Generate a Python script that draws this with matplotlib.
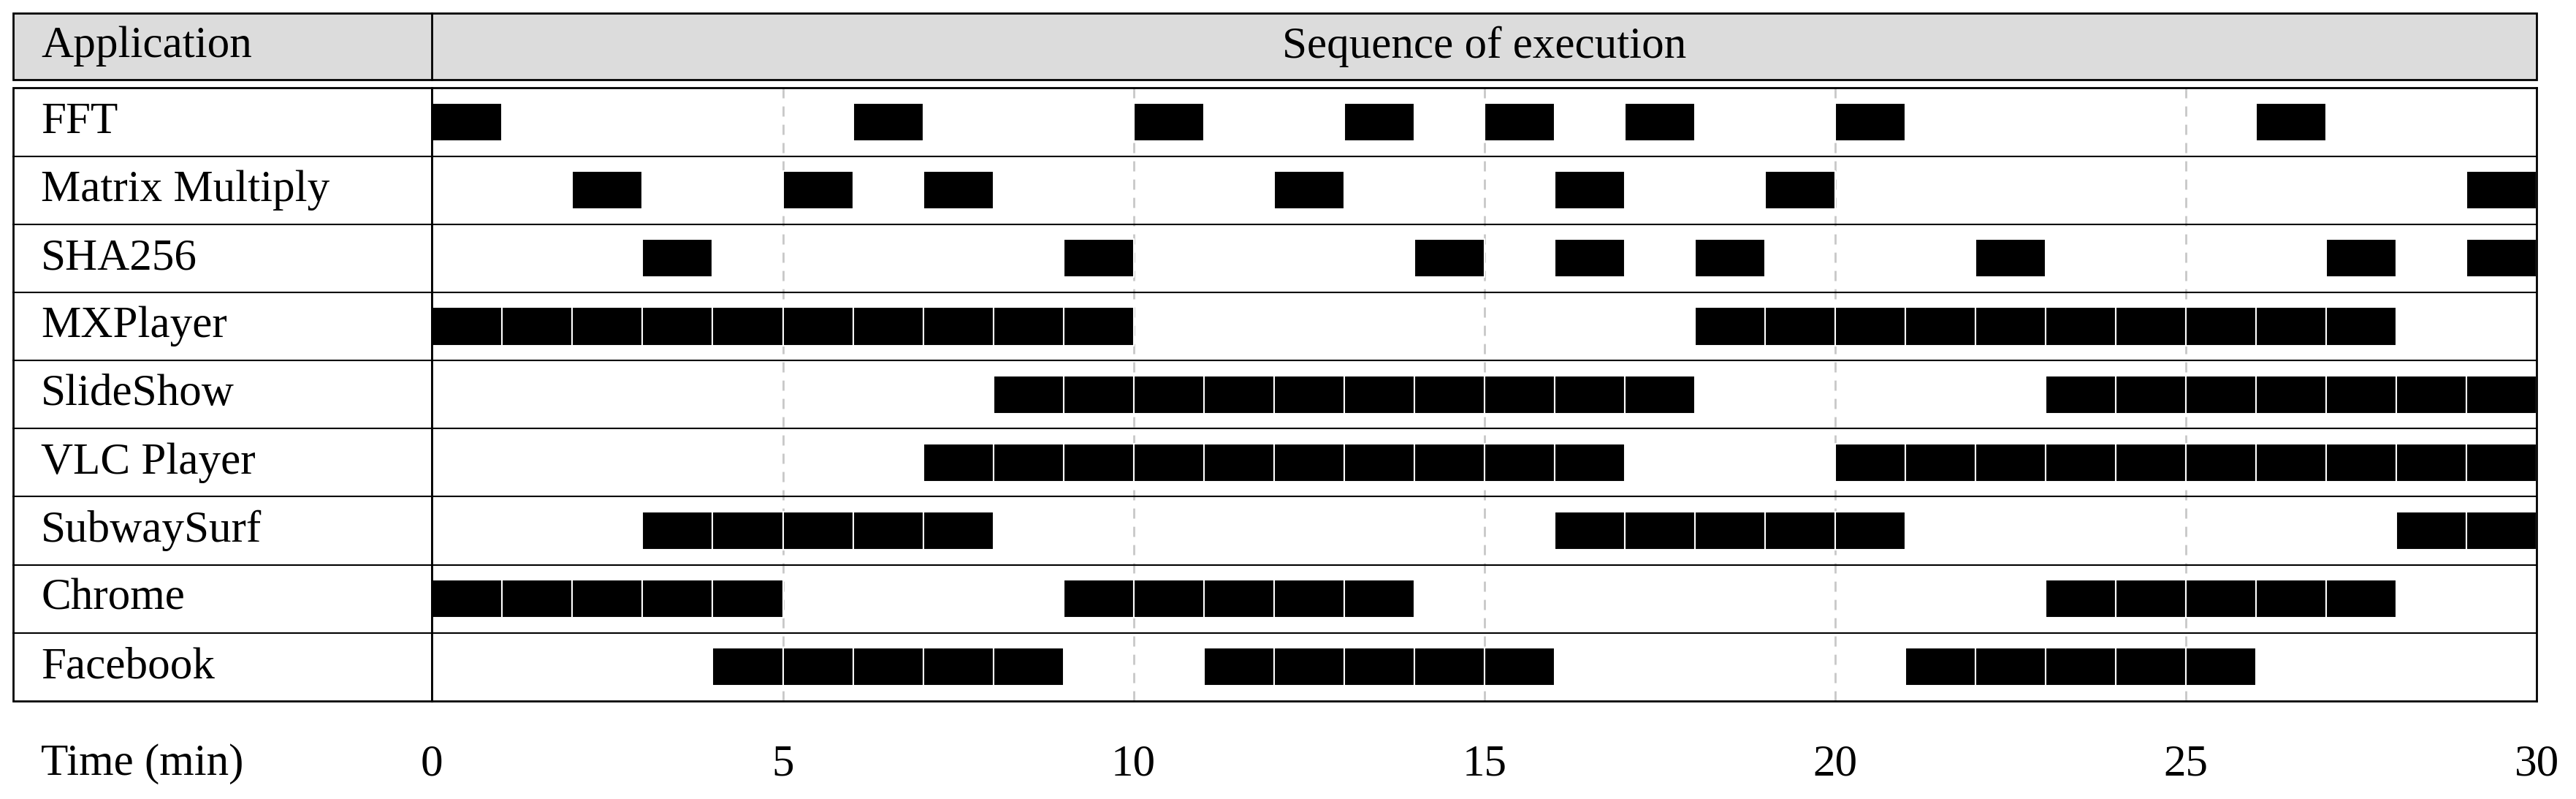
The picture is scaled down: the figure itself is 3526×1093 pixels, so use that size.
import matplotlib.pyplot as plt
from matplotlib.patches import Rectangle

apps = ["FFT", "Matrix Multiply", "SHA256", "MXPlayer", "SlideShow",
        "VLC Player", "SubwaySurf", "Chrome", "Facebook"]
# start minute of every 1-minute block per application
starts = [
    [0, 6, 10, 13, 15, 17, 20, 26],
    [2, 5, 7, 12, 16, 19, 29],
    [3, 9, 14, 16, 18, 22, 27, 29],
    list(range(0, 10)) + list(range(18, 28)),
    list(range(8, 18)) + list(range(23, 30)),
    list(range(7, 17)) + list(range(20, 30)),
    list(range(3, 8)) + list(range(16, 21)) + list(range(28, 30)),
    list(range(0, 5)) + list(range(9, 14)) + list(range(23, 28)),
    list(range(4, 9)) + list(range(11, 16)) + list(range(21, 26)),
]
xticks = [0, 5, 10, 15, 20, 25, 30]

plt.rcParams['font.family'] = ['Liberation Serif', 'DejaVu Serif']
W, H = 1568, 481  # layout units (reference scaled)
fig = plt.figure(figsize=(35.26, 10.93), dpi=100)

# layout overlay in pixel-like units
ov = fig.add_axes([0, 0, 1, 1])
ov.set_xlim(0, W)
ov.set_ylim(H, 0)
ov.axis('off')

L, X0, X1, Y0, Y1 = 8, 263, 1544, 53, 422
fs = 44

# header
ov.add_patch(Rectangle((L, 8), X1 - L, 40, facecolor='#dcdcdc', edgecolor='black', lw=2))
ov.plot([X0, X0], [8, 48], color='black', lw=2)
ov.text(25, 28, "Application", fontsize=fs, va='center', ha='left')
ov.text((X0 + X1) / 2, 28, "Sequence of execution", fontsize=fs, va='center', ha='center')

# main data axes
ax = fig.add_axes([X0 / W, 1 - Y1 / H, (X1 - X0) / W, (Y1 - Y0) / H])
ax.set_xlim(0, 30)
ax.set_ylim(len(apps), 0)
ax.set_xticks([])
ax.set_yticks([])
for s in ax.spines.values():
    s.set_linewidth(2)
for t in xticks[1:-1]:
    ax.axvline(t, color='#c8c8c8', lw=2, ls=(0, (5, 4)), zorder=0)
for i, st in enumerate(starts):
    ax.broken_barh([(s, 1) for s in st], (i + 0.22, 0.56),
                   facecolor='black', edgecolor='white', lw=1.5, zorder=2)
    if i > 0:
        ax.axhline(i, color='black', lw=1.5, zorder=3)

# label column
rh = (Y1 - Y0) / len(apps)
ov.add_patch(Rectangle((L, Y0), X0 - L, Y1 - Y0, facecolor='none', edgecolor='black', lw=2))
for i, a in enumerate(apps):
    if i > 0:
        ov.plot([L, X0], [Y0 + i * rh] * 2, color='black', lw=1.5)
    ov.text(25, Y0 + (i + 0.5) * rh, a, fontsize=fs, va='center', ha='left')

# time axis labels
ov.text(25, 460, "Time (min)", fontsize=fs, va='center', ha='left')
for t in xticks:
    ov.text(X0 + (X1 - X0) * t / 30, 460, str(t), fontsize=fs, va='center', ha='center')

fig.savefig("out.png", dpi=100)
